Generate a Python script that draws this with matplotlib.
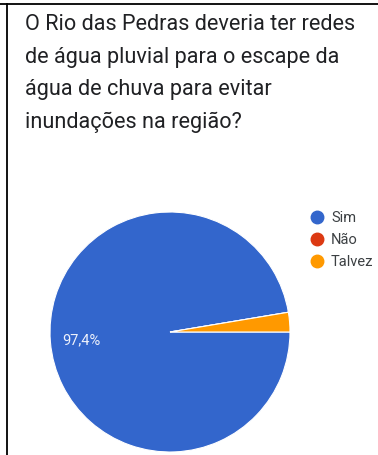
import matplotlib.pyplot as plt
from matplotlib.lines import Line2D

plt.rcParams['font.family'] = ['Roboto', 'DejaVu Sans']

# respostas do formulário
respostas = ['Sim', 'Não', 'Talvez']
contagens = [37, 0, 1]
cores = ['#3366cc', '#dc3912', '#ff9900']

titulo = ['O Rio das Pedras deveria ter redes',
          'de água pluvial para o escape da',
          'água de chuva para evitar',
          'inundações na região?']

W, H = 378, 456
fig = plt.figure(figsize=(W / 100, H / 100), dpi=100)
fig.patch.set_facecolor('white')

# moldura (linha superior e esquerda)
fig.add_artist(Line2D([0, 1], [1 - 5 / H, 1 - 5 / H], color='black', lw=1.3))
fig.add_artist(Line2D([7 / W, 7 / W], [0, 1 - 5 / H], color='black', lw=1.3))

# pergunta
for i, linha in enumerate(titulo):
    y = 25 + i * 32.5
    fig.text(25 / W, 1 - y / H, linha, fontsize=15.6, color='#202124',
             ha='left', va='center')

# pizza
cx, cy, r = 170, 333, 120
ax = fig.add_axes([(cx - r) / W, 1 - (cy + r) / H, 2 * r / W, 2 * r / H])


def rotulo(pct):
    if pct < 5:
        return ''
    return f'{pct:.1f}%'.replace('.', ',')


wedges, textos, autotextos = ax.pie(
    contagens, colors=cores, startangle=0, counterclock=False,
    autopct=rotulo, pctdistance=0.74,
    wedgeprops=dict(edgecolor='white', linewidth=0.8),
    textprops=dict(color='#eef1fb', fontsize=10.5))
ax.set_xlim(-1, 1)
ax.set_ylim(-1, 1)
ax.set_aspect('equal')
ax.axis('off')

# legenda
for i, (nome, cor) in enumerate(zip(respostas, cores)):
    y = 1 - (218 + i * 22) / H
    fig.add_artist(Line2D([317 / W], [y], marker='o', markersize=9,
                          color=cor, linestyle='none'))
    fig.text(331 / W, y, nome, fontsize=10.5, color='#3c4043',
             ha='left', va='center')

fig.savefig('out.png', dpi=100)
